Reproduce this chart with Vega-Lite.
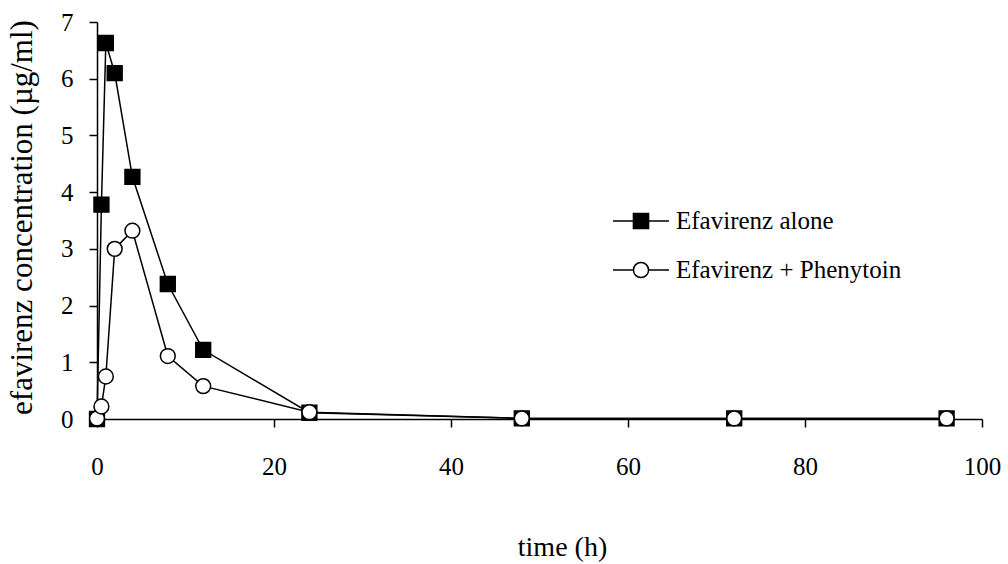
{
  "$schema": "https://vega.github.io/schema/vega-lite/v6.json",
  "width": 885,
  "height": 397,
  "autosize": {"type": "none"},
  "padding": {"left": 97, "top": 22, "right": 26, "bottom": 145},
  "background": "white",
  "config": {
    "view": {"stroke": null},
    "font": "Liberation Serif",
    "axis": {
      "grid": false,
      "domainColor": "black",
      "domainWidth": 1.5,
      "tickColor": "black",
      "tickWidth": 1.5,
      "tickSize": 8,
      "labelFlush": false,
      "labelFont": "Liberation Serif",
      "labelColor": "black",
      "labelFontSize": 25,
      "titleFont": "Liberation Serif",
      "titleColor": "black",
      "titleFontWeight": "normal"
    },
    "legend": {
      "labelFont": "Liberation Serif",
      "titleFont": "Liberation Serif"
    }
  },
  "data": {
    "values": [
      {"t": 0, "c": 0.0, "series": "Efavirenz alone"},
      {"t": 0.5, "c": 3.78, "series": "Efavirenz alone"},
      {"t": 1, "c": 6.63, "series": "Efavirenz alone"},
      {"t": 2, "c": 6.1, "series": "Efavirenz alone"},
      {"t": 4, "c": 4.27, "series": "Efavirenz alone"},
      {"t": 8, "c": 2.38, "series": "Efavirenz alone"},
      {"t": 12, "c": 1.22, "series": "Efavirenz alone"},
      {"t": 24, "c": 0.11, "series": "Efavirenz alone"},
      {"t": 48, "c": 0.01, "series": "Efavirenz alone"},
      {"t": 72, "c": 0.01, "series": "Efavirenz alone"},
      {"t": 96, "c": 0.01, "series": "Efavirenz alone"},
      {"t": 0, "c": 0.01, "series": "Efavirenz + Phenytoin"},
      {"t": 0.5, "c": 0.22, "series": "Efavirenz + Phenytoin"},
      {"t": 1, "c": 0.75, "series": "Efavirenz + Phenytoin"},
      {"t": 2, "c": 3.0, "series": "Efavirenz + Phenytoin"},
      {"t": 4, "c": 3.32, "series": "Efavirenz + Phenytoin"},
      {"t": 8, "c": 1.11, "series": "Efavirenz + Phenytoin"},
      {"t": 12, "c": 0.58, "series": "Efavirenz + Phenytoin"},
      {"t": 24, "c": 0.12, "series": "Efavirenz + Phenytoin"},
      {"t": 48, "c": 0.01, "series": "Efavirenz + Phenytoin"},
      {"t": 72, "c": 0.01, "series": "Efavirenz + Phenytoin"},
      {"t": 96, "c": 0.01, "series": "Efavirenz + Phenytoin"}
    ]
  },
  "encoding": {
    "x": {
      "field": "t",
      "type": "quantitative",
      "scale": {"domain": [0, 100], "nice": false},
      "axis": {
        "values": [0, 20, 40, 60, 80, 100],
        "labelPadding": 27,
        "labelFlush": false,
        "title": "time (h)",
        "titleFontSize": 28,
        "titleX": 465,
        "titleY": 136,
        "titleBaseline": "alphabetic",
        "titleAlign": "center"
      }
    },
    "y": {
      "field": "c",
      "type": "quantitative",
      "scale": {"domain": [0, 7], "nice": false},
      "axis": {
        "values": [0, 1, 2, 3, 4, 5, 6, 7],
        "labelPadding": 16,
        "labelFlush": false,
        "title": "efavirenz concentration (µg/ml)",
        "titleFontSize": 31,
        "titleAngle": -90,
        "titleX": -75,
        "titleY": 195,
        "titleAlign": "center",
        "titleBaseline": "middle"
      }
    }
  },
  "layer": [
    {
      "mark": {"type": "line", "color": "black", "strokeWidth": 1.5},
      "encoding": {"detail": {"field": "series"}}
    },
    {
      "transform": [{"filter": "datum.series == 'Efavirenz alone'"}],
      "mark": {"type": "point", "shape": "square", "filled": true, "fill": "black", "stroke": "black", "strokeWidth": 1.5, "size": 220, "opacity": 1}
    },
    {
      "transform": [{"filter": "datum.series == 'Efavirenz + Phenytoin'"}],
      "mark": {"type": "point", "shape": "circle", "filled": true, "fill": "white", "stroke": "black", "strokeWidth": 1.5, "size": 220, "opacity": 1}
    },
    {
      "transform": [{"filter": "datum.t < 0"}],
      "mark": {"type": "point", "filled": true, "stroke": "black", "strokeWidth": 1.5, "size": 3136, "opacity": 1},
      "encoding": {
        "shape": {
          "field": "series",
          "type": "nominal",
          "scale": {
            "domain": ["Efavirenz alone", "Efavirenz + Phenytoin"],
            "range": [
              "M-1,0H-0.27M0.27,0H1M-0.27,-0.27H0.27V0.27H-0.27Z",
              "M-1,0H-0.27M0.27,0H1M-0.27,0A0.27,0.27 0 1,0 0.27,0A0.27,0.27 0 1,0 -0.27,0Z"
            ]
          },
          "legend": {
            "title": null,
            "orient": "none",
            "legendX": 515,
            "legendY": 170,
            "padding": 0,
            "symbolSize": 3136,
            "labelFont": "Liberation Serif",
            "labelFontSize": 25,
            "labelColor": "black",
            "labelOffset": 6,
            "rowPadding": 7,
            "labelLimit": 400,
            "encode": {
              "symbols": {
                "update": {
                  "stroke": {"value": "black"},
                  "strokeWidth": {"value": 1.5},
                  "opacity": {"value": 1}
                }
              }
            }
          }
        },
        "fill": {
          "field": "series",
          "type": "nominal",
          "scale": {
            "domain": ["Efavirenz alone", "Efavirenz + Phenytoin"],
            "range": ["black", "white"]
          },
          "legend": {
            "title": null,
            "orient": "none",
            "legendX": 515,
            "legendY": 170,
            "padding": 0,
            "symbolSize": 3136,
            "labelFont": "Liberation Serif",
            "labelFontSize": 25,
            "labelColor": "black",
            "labelOffset": 6,
            "rowPadding": 7,
            "labelLimit": 400,
            "encode": {
              "symbols": {
                "update": {
                  "stroke": {"value": "black"},
                  "strokeWidth": {"value": 1.5},
                  "opacity": {"value": 1}
                }
              }
            }
          }
        }
      }
    }
  ]
}
